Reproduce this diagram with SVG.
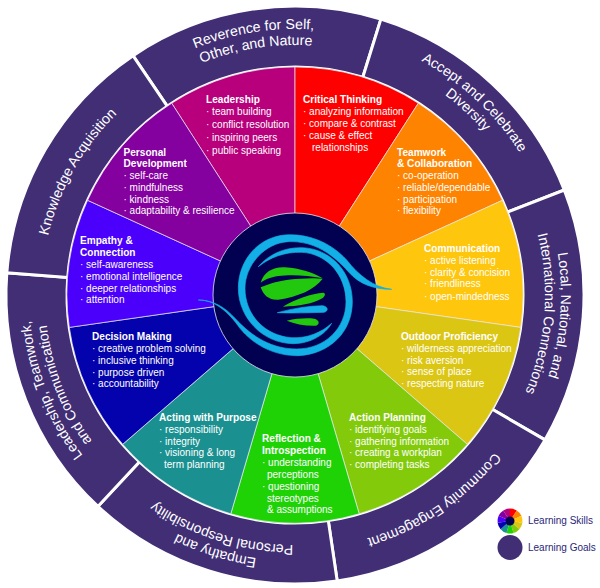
<svg xmlns="http://www.w3.org/2000/svg" xmlns:xlink="http://www.w3.org/1999/xlink" width="600" height="588" viewBox="0 0 600 588">
<style>
text{font-family:"Liberation Sans",Arial,sans-serif;fill:#fff}
.t{font-size:10.1px;font-weight:bold}
.i{font-size:10px}
.g{font-size:14.2px;text-anchor:middle}
.l{font-size:10px;fill:#2a1f78}
.seg{fill:#412e75;stroke:#fff;stroke-width:3}
.w{stroke:#e8e8f0;stroke-width:.7}
.c1{fill:#b8007c}.c2{fill:#fe0000}.c3{fill:#fe8300}.c4{fill:#fec60c}.c5{fill:#dcc614}.c6{fill:#83cb0a}.c7{fill:#1ed206}.c8{fill:#1a9190}.c9{fill:#0402ac}.c10{fill:#4a00fa}.c11{fill:#84009f}
.cy{fill:#12b0e6;stroke:#12b0e6;stroke-width:2}.gr{fill:#22c80e}
</style>
<defs>
<path id="a266" d="M29 295A266 266 0 0 1 561 295"/>
<path id="a250" d="M45 295A250 250 0 0 1 545 295"/>
<path id="a254" d="M41 295A254 254 0 0 1 549 295"/>
<g id="pie">
<path class="c1" d="M295 295L171.700 103.200A228 228 0 0 1 295 67Z"/>
<path class="c2" d="M295 295L295 67A228 228 0 0 1 418.300 103.200Z"/>
<path class="c3" d="M295 295L418.300 103.200A228 228 0 0 1 502.400 200.300Z"/>
<path class="c4" d="M295 295L502.400 200.300A228 228 0 0 1 520.700 327.400Z"/>
<path class="c5" d="M295 295L520.700 327.400A228 228 0 0 1 467.300 444.300Z"/>
<path class="c6" d="M295 295L467.300 444.300A228 228 0 0 1 359.200 513.800Z"/>
<path class="c7" d="M295 295L359.200 513.800A228 228 0 0 1 230.800 513.800Z"/>
<path class="c8" d="M295 295L230.800 513.800A228 228 0 0 1 122.700 444.300Z"/>
<path class="c9" d="M295 295L122.700 444.300A228 228 0 0 1 69.300 327.400Z"/>
<path class="c10" d="M295 295L69.300 327.400A228 228 0 0 1 87.600 200.300Z"/>
<path class="c11" d="M295 295L87.600 200.300A228 228 0 0 1 171.700 103.200Z"/>
</g>
</defs>

<g id="goal-reverence"><path class="seg" d="M133 55.700A289 289 0 0 1 380.900 19.100L362.800 77.300A228 228 0 0 0 167.200 106.200Z"/>
<text class="g" transform="rotate(-9 295 295)"><textPath xlink:href="#a266" href="#a266" startOffset="50%">Reverence for Self,</textPath></text>
<text class="g" transform="rotate(-9 295 295)"><textPath xlink:href="#a250" href="#a250" startOffset="50%">Other, and Nature</textPath></text></g>
<g id="goal-diversity"><path class="seg" d="M380.900 19.100A289 289 0 0 1 564.300 190L507.400 212.200A228 228 0 0 0 362.800 77.300Z"/>
<text class="g" transform="rotate(43 295 295)"><textPath xlink:href="#a266" href="#a266" startOffset="50%">Accept and Celebrate</textPath></text>
<text class="g" transform="rotate(43 295 295)"><textPath xlink:href="#a250" href="#a250" startOffset="50%">Diversity</textPath></text></g>
<g id="goal-connections"><path class="seg" d="M564.300 190A289 289 0 0 1 545 439.900L492.300 409.300A228 228 0 0 0 507.400 212.200Z"/>
<text class="g" transform="rotate(94.400 295 295)"><textPath xlink:href="#a266" href="#a266" startOffset="50%">Local, National, and</textPath></text>
<text class="g" transform="rotate(94.400 295 295)"><textPath xlink:href="#a250" href="#a250" startOffset="50%">International Connections</textPath></text></g>
<g id="goal-community"><path class="seg" d="M545 439.900A289 289 0 0 1 337.200 580.900L328.300 520.600A228 228 0 0 0 492.300 409.300Z"/>
<text class="g" transform="rotate(145.900 295 295)"><textPath xlink:href="#a254" href="#a254" startOffset="50%">Community Engagement</textPath></text></g>
<g id="goal-empathy"><path class="seg" d="M337.200 580.900A289 289 0 0 1 97.900 506.400L139.500 461.800A228 228 0 0 0 328.300 520.600Z"/>
<text class="g" transform="rotate(197.300 295 295)"><textPath xlink:href="#a266" href="#a266" startOffset="50%">Empathy and</textPath></text>
<text class="g" transform="rotate(197.300 295 295)"><textPath xlink:href="#a250" href="#a250" startOffset="50%">Personal Responsibility</textPath></text></g>
<g id="goal-leadership"><path class="seg" d="M97.900 506.400A289 289 0 0 1 6.800 272.800L67.700 277.500A228 228 0 0 0 139.500 461.800Z"/>
<text class="g" transform="rotate(248.700 295 295)"><textPath xlink:href="#a266" href="#a266" startOffset="50%">Leadership, Teamwork,</textPath></text>
<text class="g" transform="rotate(248.700 295 295)"><textPath xlink:href="#a250" href="#a250" startOffset="50%">and Communication</textPath></text></g>
<g id="goal-knowledge"><path class="seg" d="M6.800 272.800A289 289 0 0 1 133 55.700L167.200 106.200A228 228 0 0 0 67.700 277.500Z"/>
<text class="g" transform="rotate(299.500 295 295)"><textPath xlink:href="#a254" href="#a254" startOffset="50%">Knowledge Acquisition</textPath></text></g>

<g id="skill-wheel" class="w"><use href="#pie" xlink:href="#pie"/></g>

<g id="skill-leadership"><text class="t" x="206" y="103">Leadership</text><text class="i" x="206" y="115">· team building</text><text class="i" x="206" y="128">· conflict resolution</text><text class="i" x="206" y="141">· inspiring peers</text><text class="i" x="206" y="154">· public speaking</text></g>
<g id="skill-critical"><text class="t" x="303" y="103">Critical Thinking</text><text class="i" x="303" y="115">· analyzing information</text><text class="i" x="303" y="127">· compare &amp; contrast</text><text class="i" x="303" y="139">· cause &amp; effect</text><text class="i" x="312" y="151">relationships</text></g>
<g id="skill-teamwork"><text class="t" x="397" y="156">Teamwork</text><text class="t" x="397" y="167">&amp; Collaboration</text><text class="i" x="397" y="179">· co-operation</text><text class="i" x="397" y="191">· reliable/dependable</text><text class="i" x="397" y="203">· participation</text><text class="i" x="397" y="214">· flexibility</text></g>
<g id="skill-communication"><text class="t" x="424" y="252">Communication</text><text class="i" x="424" y="264">· active listening</text><text class="i" x="424" y="276">· clarity &amp; concision</text><text class="i" x="424" y="287">· friendliness</text><text class="i" x="424" y="300">· open-mindedness</text></g>
<g id="skill-outdoor"><text class="t" x="401" y="340">Outdoor Proficiency</text><text class="i" x="401" y="352">· wilderness appreciation</text><text class="i" x="401" y="364">· risk aversion</text><text class="i" x="401" y="375">· sense of place</text><text class="i" x="401" y="387">· respecting nature</text></g>
<g id="skill-action"><text class="t" x="349" y="421">Action Planning</text><text class="i" x="349" y="433">· identifying goals</text><text class="i" x="349" y="445">· gathering information</text><text class="i" x="349" y="456">· creating a workplan</text><text class="i" x="349" y="468">· completing tasks</text></g>
<g id="skill-reflection"><text class="t" x="262" y="442">Reflection &amp;</text><text class="t" x="262" y="454">Introspection</text><text class="i" x="262" y="466">· understanding</text><text class="i" x="267" y="478">perceptions</text><text class="i" x="262" y="490">· questioning</text><text class="i" x="267" y="502">stereotypes</text><text class="i" x="267" y="513">&amp; assumptions</text></g>
<g id="skill-acting"><text class="t" x="159" y="421">Acting with Purpose</text><text class="i" x="159" y="433">· responsibility</text><text class="i" x="159" y="445">· integrity</text><text class="i" x="159" y="456">· visioning &amp; long</text><text class="i" x="164" y="468">term planning</text></g>
<g id="skill-decision"><text class="t" x="92" y="340">Decision Making</text><text class="i" x="92" y="352">· creative problem solving</text><text class="i" x="92" y="364">· inclusive thinking</text><text class="i" x="92" y="376">· purpose driven</text><text class="i" x="92" y="387">· accountability</text></g>
<g id="skill-empathy"><text class="t" x="80" y="244">Empathy &amp;</text><text class="t" x="80" y="256">Connection</text><text class="i" x="80" y="268">· self-awareness</text><text class="i" x="80" y="280">· emotional intelligence</text><text class="i" x="80" y="292">· deeper relationships</text><text class="i" x="80" y="303">· attention</text></g>
<g id="skill-personal"><text class="t" x="123.500" y="156">Personal</text><text class="t" x="123.500" y="167">Development</text><text class="i" x="123.500" y="179">· self-care</text><text class="i" x="123.500" y="191">· mindfulness</text><text class="i" x="123.500" y="203">· kindness</text><text class="i" x="123.500" y="214">· adaptability &amp; resilience</text></g>

<g id="hub">
<circle cx="295" cy="295" r="82" fill="#020050" stroke="#e8e8f0" stroke-width=".8"/>
<g transform="translate(190 200) scale(.33333)">
<path class="cy" d="M605 268C550 262 505 225 470 180C420 125 350 100 285 105C205 112 145 180 145 265C145 350 215 430 310 431C360 431 405 405 425 370C395 398 350 416 305 413C225 408 165 345 165 265C165 195 225 128 295 125C375 122 430 165 475 215C510 255 555 268 605 268Z"/>
<path class="cy" d="M25 300C75 300 115 335 150 385C195 440 260 468 325 467C420 462 487 395 487 305C487 215 420 145 335 143C280 142 235 165 205 200C240 172 285 155 335 157C410 160 468 225 468 305C468 385 405 447 320 447C250 447 190 415 135 355C105 322 70 300 25 300Z"/>
<path class="gr" d="M212 248C222 215 250 200 285 202C330 205 370 218 398 235C350 225 300 224 265 228C240 232 222 240 212 248Z"/>
<path class="gr" d="M212 262C250 245 290 238 330 236C355 234 380 234 398 236C375 268 325 290 265 299C235 301 220 285 212 262Z"/>
<path class="gr" d="M278 320C315 298 365 280 400 278C407 280 406 287 398 294C370 312 325 318 278 320Z"/>
<path class="cy" d="M262 338C310 325 355 318 398 317C415 320 416 333 402 337C360 338 310 340 262 338Z"/>
<path class="gr" d="M290 362C320 355 350 354 373 356C388 360 390 372 378 377C345 378 315 372 290 362Z"/>
</g>
</g>

<g id="legend-skills"><g transform="translate(510 521) scale(.0548) translate(-295 -295)"><use href="#pie" xlink:href="#pie"/><circle cx="295" cy="295" r="82" fill="#020050"/></g><text class="l" x="528" y="524">Learning Skills</text></g>
<g id="legend-goals"><circle cx="510" cy="547.500" r="12.500" fill="#412e75"/><text class="l" x="528" y="550.500">Learning Goals</text></g>
<g id="connectors"/>
</svg>
